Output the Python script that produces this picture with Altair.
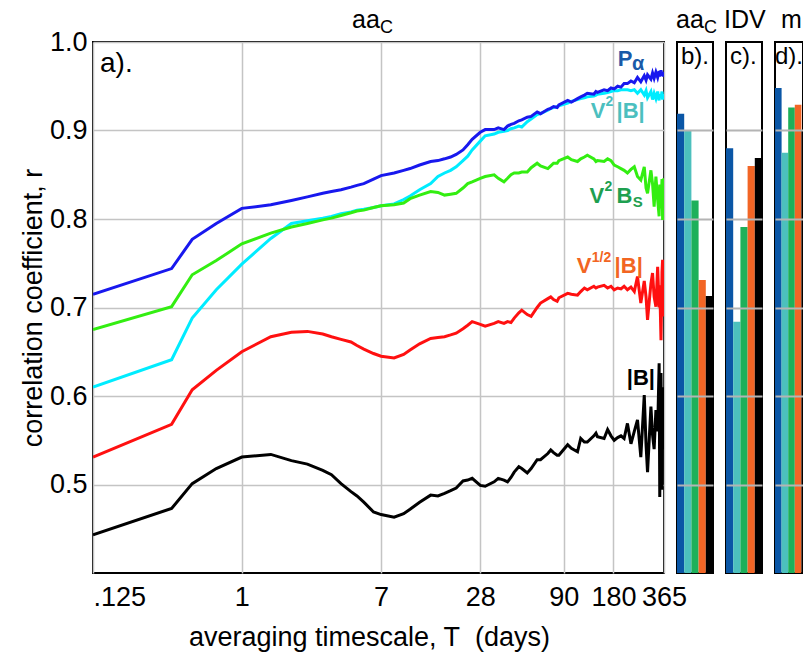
import altair as alt
import pandas as pd

FONT = "Liberation Sans, Arial, sans-serif"

# averaging timescale (days)
T_days = [0.125, 0.375, 0.5, 0.7, 1.0, 1.5, 2.0, 2.5, 3.1, 3.5,
          4.0, 4.6, 5.0, 5.5, 6.3, 7.0, 8.4, 9.6, 10.5, 12,
          14, 15.5, 17, 18.5, 20, 22, 23.5, 25, 28, 30,
          34, 36, 39, 41, 43, 45, 48, 50, 54, 57,
          62, 65, 72, 75, 78, 82, 84, 95, 100, 109,
          114, 120, 125, 137, 141, 144, 158, 166, 174, 182,
          191, 200, 209, 219, 230, 241, 252, 264, 277, 284,
          290, 304, 311, 318, 326, 334, 341, 344, 350, 355,
          358, 362, 365]

r_Palpha = [0.715, 0.744, 0.777, 0.795, 0.812, 0.816, 0.821, 0.825, 0.829, 0.831,
            0.833, 0.836, 0.838, 0.840, 0.845, 0.849, 0.852, 0.855, 0.857, 0.861,
            0.865, 0.866, 0.868, 0.870, 0.873, 0.878, 0.884, 0.890, 0.898, 0.901,
            0.901, 0.903, 0.901, 0.905, 0.907, 0.908, 0.911, 0.912, 0.915, 0.916,
            0.921, 0.919, 0.924, 0.925, 0.927, 0.926, 0.929, 0.934, 0.932, 0.936,
            0.938, 0.940, 0.942, 0.941, 0.944, 0.943, 0.946, 0.945, 0.948, 0.947,
            0.950, 0.949, 0.953, 0.953, 0.956, 0.954, 0.960, 0.955, 0.962, 0.957,
            0.963, 0.958, 0.965, 0.959, 0.966, 0.960, 0.967, 0.961, 0.968, 0.962,
            0.966, 0.961, 0.965]

r_V2B = [0.610, 0.641, 0.688, 0.720, 0.749, 0.778, 0.795, 0.798, 0.801, 0.803,
         0.806, 0.808, 0.810, 0.811, 0.813, 0.815, 0.817, 0.822, 0.826, 0.833,
         0.840, 0.848, 0.852, 0.855, 0.859, 0.866, 0.871, 0.878, 0.888, 0.894,
         0.896, 0.898, 0.899, 0.900, 0.902, 0.903, 0.905, 0.904, 0.910, 0.913,
         0.918, 0.919, 0.923, 0.925, 0.926, 0.927, 0.928, 0.931, 0.933, 0.935,
         0.936, 0.937, 0.938, 0.939, 0.940, 0.941, 0.942, 0.943, 0.944, 0.945,
         0.945, 0.946, 0.946, 0.946, 0.945, 0.946, 0.942, 0.946, 0.940, 0.945,
         0.937, 0.944, 0.935, 0.942, 0.936, 0.944, 0.934, 0.941, 0.937, 0.944,
         0.935, 0.941, 0.938]

r_V2Bs = [0.675, 0.701, 0.737, 0.753, 0.772, 0.784, 0.791, 0.795, 0.799, 0.801,
          0.804, 0.807, 0.809, 0.810, 0.813, 0.815, 0.816, 0.818, 0.823, 0.827,
          0.831, 0.830, 0.827, 0.828, 0.829, 0.835, 0.840, 0.842, 0.846, 0.848,
          0.850, 0.846, 0.842, 0.846, 0.850, 0.852, 0.852, 0.853, 0.853, 0.858,
          0.863, 0.860, 0.857, 0.860, 0.863, 0.863, 0.866, 0.870, 0.867, 0.865,
          0.868, 0.870, 0.872, 0.868, 0.865, 0.866, 0.865, 0.868, 0.866, 0.861,
          0.859, 0.857, 0.855, 0.852, 0.856, 0.859, 0.848, 0.844, 0.859, 0.835,
          0.829, 0.855, 0.840, 0.814, 0.848, 0.822, 0.803, 0.839, 0.812, 0.845,
          0.799, 0.840, 0.846]

r_VhalfB = [0.531, 0.568, 0.607, 0.629, 0.650, 0.667, 0.672, 0.673, 0.670, 0.667,
            0.664, 0.661, 0.657, 0.653, 0.648, 0.645, 0.643, 0.647, 0.652, 0.659,
            0.665, 0.666, 0.667, 0.669, 0.671, 0.676, 0.680, 0.684, 0.681, 0.679,
            0.682, 0.684, 0.682, 0.684, 0.683, 0.688, 0.694, 0.697, 0.692, 0.690,
            0.700, 0.705, 0.710, 0.712, 0.709, 0.707, 0.711, 0.716, 0.715, 0.714,
            0.718, 0.722, 0.720, 0.724, 0.722, 0.723, 0.725, 0.722, 0.724, 0.720,
            0.722, 0.721, 0.724, 0.720, 0.723, 0.718, 0.735, 0.705, 0.730, 0.712,
            0.686, 0.727, 0.739, 0.712, 0.701, 0.746, 0.700, 0.725, 0.663, 0.740,
            0.754, 0.690, 0.708]

r_B = [0.443, 0.473, 0.501, 0.518, 0.531, 0.534, 0.527, 0.523, 0.516, 0.511,
       0.501, 0.492, 0.487, 0.480, 0.469, 0.466, 0.463, 0.467, 0.472, 0.480,
       0.488, 0.487, 0.490, 0.493, 0.496, 0.504, 0.505, 0.507, 0.499, 0.498,
       0.503, 0.507, 0.505, 0.503, 0.508, 0.514, 0.520, 0.518, 0.513, 0.518,
       0.528, 0.528, 0.535, 0.539, 0.536, 0.533, 0.533, 0.545, 0.541, 0.537,
       0.552, 0.548, 0.548, 0.555, 0.558, 0.554, 0.552, 0.562, 0.555, 0.550,
       0.553, 0.555, 0.552, 0.569, 0.546, 0.560, 0.573, 0.531, 0.601, 0.545,
       0.514, 0.588, 0.556, 0.540, 0.584, 0.560, 0.637, 0.486, 0.626, 0.494,
       0.610, 0.540, 0.563]

series_names = ["P_alpha", "V2_B", "V2_Bs", "Vhalf_B", "B"]
line_colors = ["#1818ee", "#00ecff", "#33ee11", "#ff1010", "#000000"]
bar_colors = ["#0a56a6", "#4cc0bd", "#1db05a", "#f26525", "#000000"]
label_colors = ["#1a5aa8", "#4cbfbf", "#1ea050", "#f26522", "#000000"]

# bar panels: correlation for each coupling function
bars_aaC = [0.919, 0.900, 0.821, 0.731, 0.713]
bars_IDV = [0.880, 0.684, 0.791, 0.860, 0.869]
bars_m = [0.948, 0.875, 0.926, 0.929, 0.900]

# line labels (text, T, r, size, colour index)
ann_text = ["P", "α", "V", "2", "|B|", "V", "2", "B", "S", "V", "1/2", "|B|", "|B|"]
ann_T = [191, 233, 131, 161, 188, 129, 159, 188, 236, 108, 133, 183, 217]
ann_r = [0.973, 0.968, 0.914, 0.928, 0.914, 0.818, 0.832, 0.818, 0.814, 0.739, 0.751, 0.739, 0.612]
ann_size = [22, 20, 22, 14, 22, 22, 14, 22, 15, 22, 14, 22, 22]
ann_cidx = [0, 0, 1, 1, 1, 2, 2, 2, 2, 3, 3, 3, 4]

series_vals = [r_Palpha, r_V2B, r_V2Bs, r_VhalfB, r_B]

ydom = [0.4, 1.0]
yscale = alt.Scale(domain=ydom, nice=False, zero=False)

x_enc = alt.X(
    "T:Q",
    scale=alt.Scale(type="log", domain=[0.125, 365], nice=False),
    axis=alt.Axis(
        values=[0.125, 1, 7, 28, 90, 180, 365],
        labelExpr="datum.value < 1 ? '.125' : '' + datum.value",
        labelAlign={"condition": {"test": "datum.value < 1", "value": "left"}, "value": "center"},
        labelFontSize=27, labelPadding=11, ticks=False, domain=False,
        grid=True, gridColor="#c4c4c4", gridWidth=1.5,
        title="averaging timescale, T\u00a0 (days)", titleFontSize=27,
        titleX=276, titleY=72, titleBaseline="alphabetic", titleFontWeight="normal",
    ),
)
y_enc = alt.Y(
    "r:Q",
    scale=yscale,
    axis=alt.Axis(
        values=[0.5, 0.6, 0.7, 0.8, 0.9, 1.0], format=".1f",
        labelFontSize=27, labelPadding=6, ticks=False, domain=False,
        grid=True, gridColor="#c4c4c4", gridWidth=1.5,
        title="correlation coefficient, r", titleFontSize=27, titleFontWeight="normal",
        titleX=-52, titleY=265.5, titleAngle=270, titleBaseline="alphabetic", titleAlign="center",
    ),
)

draw_order = [4, 3, 1, 2, 0]
layers = []
for i in draw_order:
    df = pd.DataFrame({"T": T_days, "r": series_vals[i]})
    layers.append(
        alt.Chart(df).mark_line(color=line_colors[i], strokeWidth=3, clip=True)
        .encode(x=x_enc, y=y_enc)
    )

ann_df = pd.DataFrame({
    "text": ann_text, "T": ann_T, "r": ann_r, "size": ann_size,
    "color": [label_colors[c] for c in ann_cidx],
})
labels = alt.Chart(ann_df).mark_text(
    align="left", baseline="alphabetic", fontWeight="bold", font=FONT
).encode(
    x=alt.X("T:Q"), y=alt.Y("r:Q"), text="text:N",
    size=alt.Size("size:Q", scale=None), color=alt.Color("color:N", scale=None),
)


def txt(s, x, y, size, weight="normal"):
    return alt.Chart(pd.DataFrame({"t": [s]})).mark_text(
        align="left", baseline="alphabetic", fontSize=size, font=FONT,
        fontWeight=weight, color="black",
    ).encode(text="t:N", x=alt.value(x), y=alt.value(y))


main = alt.layer(
    *layers, labels,
    txt("a).", 7, 30, 28),
    txt("aa", 259, -14, 25),
    txt("C", 287, -9, 18),
).properties(width=571, height=531)


def bar_panel(vals, letter, lx, title_parts, width, rng=None):
    df = pd.DataFrame({"series": series_names, "r": vals})
    sc = dict(domain=series_names, paddingInner=0, paddingOuter=0)
    if rng is not None:
        sc["range"] = rng
    bars = alt.Chart(df).mark_bar(clip=True).encode(
        x=alt.X("series:N", scale=alt.Scale(**sc), axis=None, sort=series_names),
        y=alt.Y("r:Q", scale=yscale, axis=alt.Axis(
            values=[0.5, 0.6, 0.7, 0.8, 0.9], labels=False, ticks=False, domain=False,
            title=None, grid=True, gridColor="#b4b4b4", gridWidth=2, zindex=1)),
        y2=alt.datum(0.4),
        color=alt.Color("series:N", scale=alt.Scale(domain=series_names, range=bar_colors), legend=None),
    )
    parts = [bars, txt(letter, lx, 22, 24)]
    for (s, x, y, size) in title_parts:
        parts.append(txt(s, x, y, size))
    return alt.layer(*parts).properties(width=width, height=531)


b = bar_panel(bars_aaC, "b).", 4, [("aa", -1, -14, 25), ("C", 27, -9, 18)], 36)
c = bar_panel(bars_IDV, "c).", 4, [("IDV", -2, -14, 25)], 36)
d = bar_panel(bars_m, "d).", 0, [("m", 6, -14, 25)], 28, rng=[0, 33])

chart = alt.hconcat(main, b, c, d, spacing=13, bounds="flush").properties(
    autosize=alt.AutoSizeParams(type="none"),
    padding={"left": 93, "top": 42, "right": 710, "bottom": 614},
).configure_view(
    stroke="black", strokeWidth=2
).configure_axis(
    labelFont=FONT, titleFont=FONT, labelColor="black", titleColor="black"
).configure_text(font=FONT)

chart.save("out.html", embed_options={"renderer": "svg", "actions": False})
